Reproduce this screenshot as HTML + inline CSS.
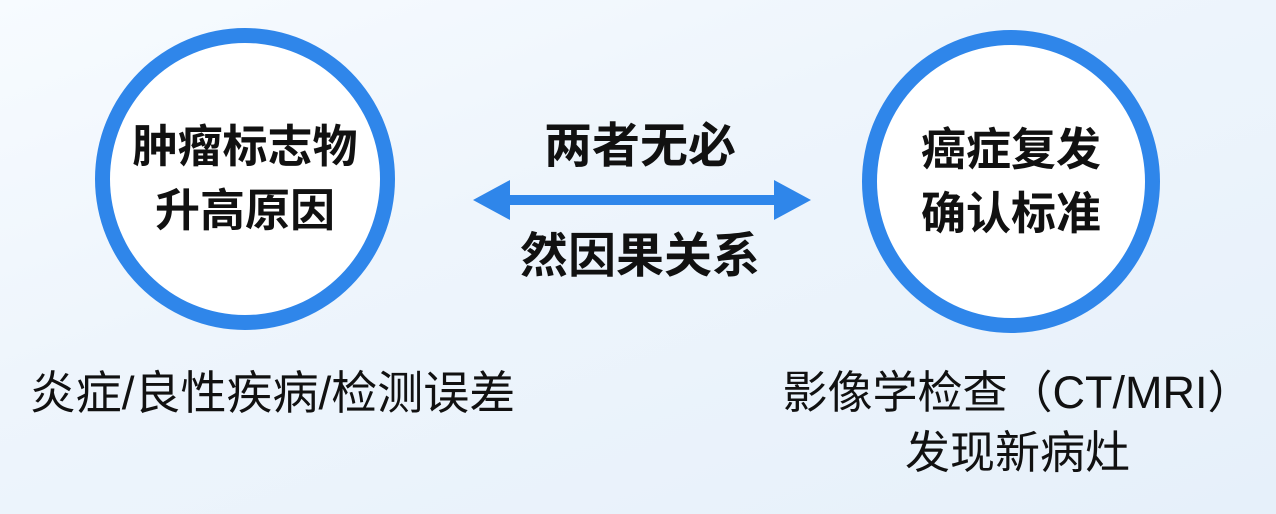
<!DOCTYPE html>
<html><head><meta charset="utf-8"><style>
html,body{margin:0;padding:0;}
body{width:1276px;height:514px;overflow:hidden;position:relative;
background:linear-gradient(160deg,#f7fbff 0%,#eef5fc 40%,#e6f0fa 100%);
font-family:"Liberation Sans","Noto Sans CJK SC",sans-serif;color:#111;}
.c{position:absolute;border:15px solid #2f86ea;border-radius:50%;background:#fff;box-sizing:border-box;
display:flex;align-items:center;justify-content:center;text-align:center;font-weight:bold;font-size:45px;line-height:64px;}
.t{position:absolute;text-align:center;white-space:nowrap;line-height:1.2;}
</style></head><body>
<div class="c" style="left:95px;top:28px;width:300px;height:302px;">肿瘤标志物<br>升高原因</div>
<div class="c" style="left:862px;top:30px;width:298px;height:303px;">癌症复发<br>确认标准</div>
<div class="t" style="left:440px;width:400px;top:118px;font-size:48px;font-weight:bold;">两者无必</div>
<div class="t" style="left:440px;width:400px;top:228px;font-size:48px;font-weight:bold;">然因果关系</div>
<svg style="position:absolute;left:0;top:0" width="1276" height="514">
<rect x="500" y="195" width="284" height="10" fill="#2f86ea"/>
<polygon points="473,200 510,180 510,220" fill="#2f86ea"/>
<polygon points="811,200 774,180 774,220" fill="#2f86ea"/>
</svg>
<div class="t" style="left:0px;width:545px;top:366px;font-size:46px;">炎症/良性疾病/检测误差</div>
<div class="t" style="left:750px;width:535px;top:366px;font-size:45px;">影像学检查（CT/MRI）</div>
<div class="t" style="left:750px;width:535px;top:426px;font-size:45px;">发现新病灶</div>
</body></html>
